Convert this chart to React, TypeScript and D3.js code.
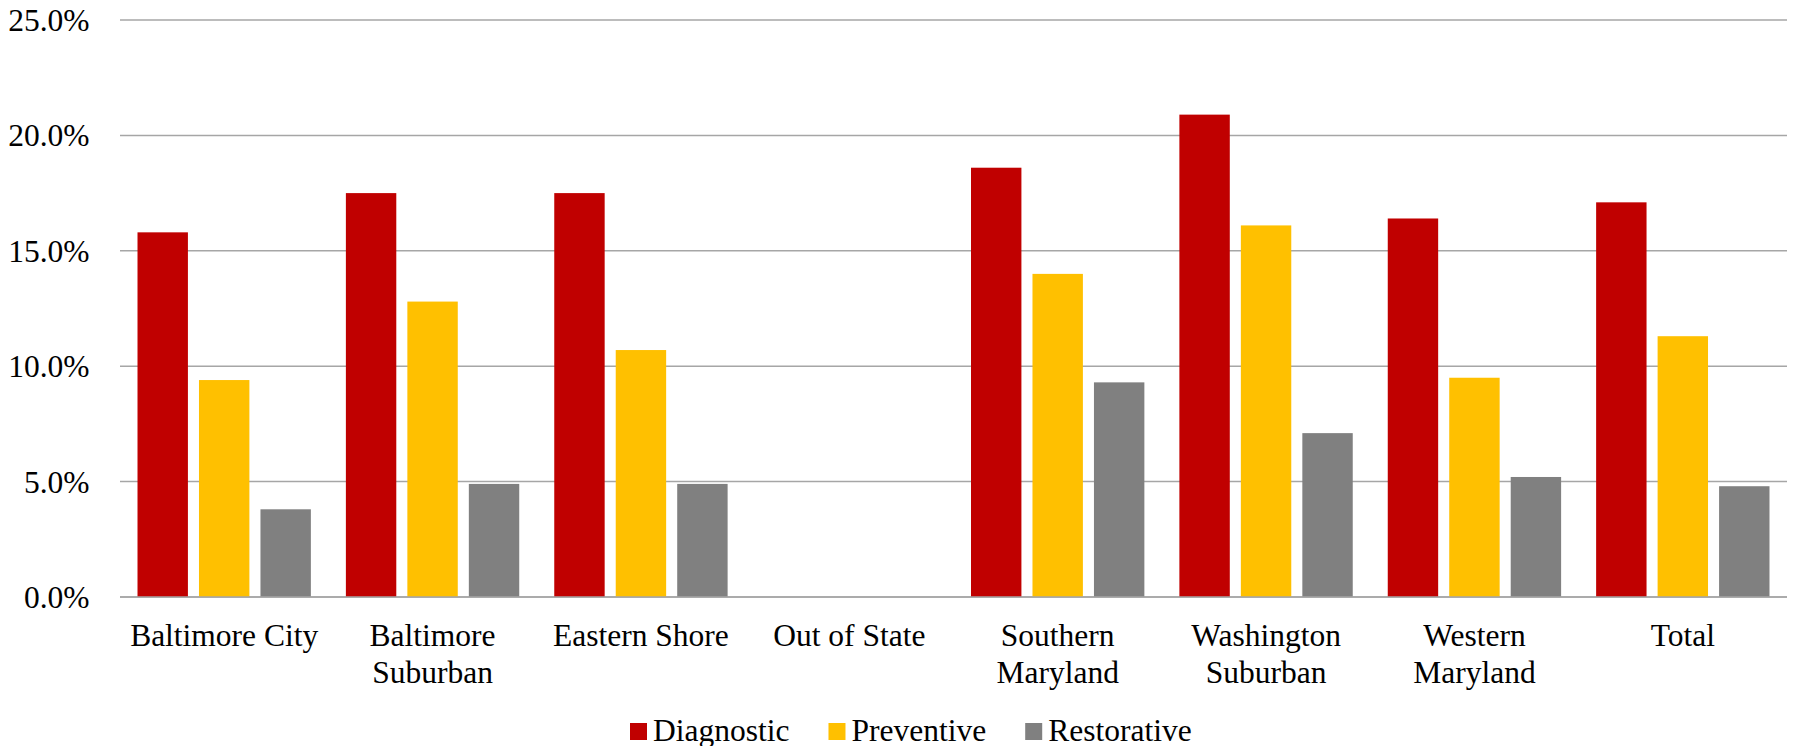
import React, { useEffect, useRef } from "react";
import * as d3 from "d3";

const categories = [
  ["Baltimore City"],
  ["Baltimore", "Suburban"],
  ["Eastern Shore"],
  ["Out of State"],
  ["Southern", "Maryland"],
  ["Washington", "Suburban"],
  ["Western", "Maryland"],
  ["Total"],
];
const seriesNames = ["Diagnostic", "Preventive", "Restorative"];
const seriesColors = ["#C00000", "#FFC000", "#808080"];
const diagnostic = [15.8, 17.5, 17.5, 0, 18.6, 20.9, 16.4, 17.1];
const preventive = [9.4, 12.8, 10.7, 0, 14.0, 16.1, 9.5, 11.3];
const restorative = [3.8, 4.9, 4.9, 0, 9.3, 7.1, 5.2, 4.8];
const yTicks = [0, 5, 10, 15, 20, 25];

const W = 1794;
const H = 746;
const FONT = "'Liberation Serif', 'Times New Roman', serif";
const FS = 31.5;

export default function App() {
  const ref = useRef<SVGSVGElement>(null);

  useEffect(() => {
    const svg = d3.select(ref.current);
    svg.selectAll("*").remove();

    const left = 120, right = 1787, top = 20, bottom = 597;
    const keys = categories.map((c) => c.join(" "));
    const values = [diagnostic, preventive, restorative];

    const x0 = d3.scaleBand<string>().domain(keys).range([left, right]).padding(0);
    const bw = x0.bandwidth();
    const x1 = d3
      .scaleBand<string>()
      .domain(seriesNames)
      .range([bw * 0.084, bw * 0.916])
      .paddingInner(0.18)
      .paddingOuter(0);
    const y = d3.scaleLinear().domain([0, 25]).range([bottom, top]);

    // gridlines
    const grid = svg.append("g");
    grid
      .selectAll("line")
      .data(yTicks)
      .join("line")
      .attr("x1", left)
      .attr("x2", right)
      .attr("y1", (d) => y(d))
      .attr("y2", (d) => y(d))
      .attr("stroke", "#A6A6A6")
      .attr("stroke-width", 1.5);

    // y labels
    svg
      .append("g")
      .selectAll("text")
      .data(yTicks)
      .join("text")
      .attr("x", 89.5)
      .attr("y", (d) => y(d) + 11)
      .attr("text-anchor", "end")
      .attr("font-family", FONT)
      .attr("font-size", FS)
      .attr("fill", "#000")
      .text((d) => d3.format(".1f")(d) + "%");

    // bars
    const groups = svg
      .append("g")
      .selectAll("g")
      .data(keys)
      .join("g")
      .attr("transform", (k) => `translate(${x0(k)},0)`);
    groups
      .selectAll("rect")
      .data((k, i) => seriesNames.map((s, j) => ({ s, v: values[j][i], c: seriesColors[j] })))
      .join("rect")
      .attr("x", (d) => x1(d.s)!)
      .attr("width", x1.bandwidth())
      .attr("y", (d) => y(d.v))
      .attr("height", (d) => y(0) - y(d.v))
      .attr("fill", (d) => d.c);

    // redraw baseline on top
    svg
      .append("line")
      .attr("x1", left)
      .attr("x2", right)
      .attr("y1", y(0))
      .attr("y2", y(0))
      .attr("stroke", "#A6A6A6")
      .attr("stroke-width", 1.5);

    // category labels
    const cl = svg
      .append("g")
      .selectAll("text")
      .data(categories)
      .join("text")
      .attr("x", (c) => x0(c.join(" "))! + bw / 2)
      .attr("y", 645.5)
      .attr("text-anchor", "middle")
      .attr("font-family", FONT)
      .attr("font-size", FS)
      .attr("fill", "#000");
    cl.selectAll("tspan")
      .data((c) => c.map((t, i) => ({ t, i, c })))
      .join("tspan")
      .attr("x", (d) => x0(d.c.join(" "))! + bw / 2)
      .attr("dy", (d) => (d.i === 0 ? 0 : 37.5))
      .text((d) => d.t);

    // legend
    const lg = svg.append("g");
    let lx = 630;
    seriesNames.forEach((s, i) => {
      lg.append("rect")
        .attr("x", lx)
        .attr("y", 723)
        .attr("width", 17)
        .attr("height", 17)
        .attr("fill", seriesColors[i]);
      const t = lg
        .append("text")
        .attr("x", lx + 23)
        .attr("y", 741)
        .attr("font-family", FONT)
        .attr("font-size", FS)
        .attr("fill", "#000")
        .text(s);
      const len = (t.node() as SVGTextElement).getComputedTextLength();
      lx = lx + 23 + len + 39;
    });
  }, []);

  return (
    <svg
      ref={ref}
      width={W}
      height={H}
      style={{ position: "absolute", left: 0, top: 0, background: "#fff" }}
    />
  );
}
